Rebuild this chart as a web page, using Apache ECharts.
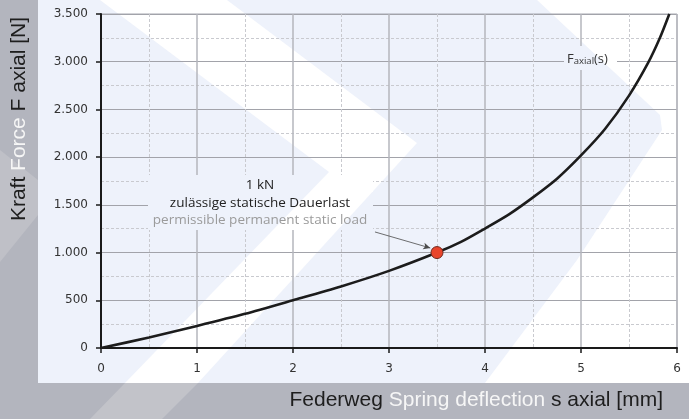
<!DOCTYPE html>
<html>
<head>
<meta charset="utf-8">
<script src="https://cdn.jsdelivr.net/npm/echarts@6/dist/echarts.min.js"></script>
<style>html,body{margin:0;padding:0;background:#b3b5be;}#c{width:689px;height:419px;}</style>
</head>
<body>
<div id="c"></div>
<script>
// ---- data ----
const sValues = [0, 0.5, 1, 1.5, 2, 2.5, 3, 3.5, 3.75, 4, 4.25, 4.5, 4.75, 5, 5.25, 5.5, 5.7, 5.82, 5.92];
const fValues = [0, 110, 231, 358, 500, 645, 808, 1000, 1112, 1252, 1400, 1578, 1774, 2018, 2295, 2645, 2990, 3245, 3500];
const loadPoint = [3.5, 1000];
const arrowFrom = [2.854, 1216];
const arrowTo = [3.43, 1048];
const xTicks = [0, 1, 2, 3, 4, 5, 6];
const yTicks = [0, 500, 1000, 1500, 2000, 2500, 3000, 3500];
const annoLines = ['1 kN', 'zulässige statische Dauerlast', 'permissible permanent static load'];

// ---- layout / decoration ----
const W = 689, H = 419;
const panel = {x: 38, y: 0, w: 651, h: 383};
const lav = '#eef2fb';
const whiteShapes = [
  [[100,0],[227,0],[417,143],[198,383],[125,383],[329,172]],
  [[537,0],[689,0],[689,383],[485,383],[577,260],[662,130],[660,115]]
];
const boxes = [
  {x: 148, y: 175, w: 225, h: 55},
  {x: 564, y: 46, w: 53, h: 24}
];

function clipPoly(poly, r) {
  const edges = [
    [p => p[0] >= r.x, (a, b) => { const t = (r.x - a[0]) / (b[0] - a[0]); return [r.x, a[1] + t * (b[1] - a[1])]; }],
    [p => p[0] <= r.x + r.w, (a, b) => { const t = (r.x + r.w - a[0]) / (b[0] - a[0]); return [r.x + r.w, a[1] + t * (b[1] - a[1])]; }],
    [p => p[1] >= r.y, (a, b) => { const t = (r.y - a[1]) / (b[1] - a[1]); return [a[0] + t * (b[0] - a[0]), r.y]; }],
    [p => p[1] <= r.y + r.h, (a, b) => { const t = (r.y + r.h - a[1]) / (b[1] - a[1]); return [a[0] + t * (b[0] - a[0]), r.y + r.h]; }]
  ];
  let out = poly;
  for (const [inside, inter] of edges) {
    const input = out; out = [];
    if (!input.length) break;
    for (let i = 0; i < input.length; i++) {
      const cur = input[i], prev = input[(i + input.length - 1) % input.length];
      if (inside(cur)) {
        if (!inside(prev)) out.push(inter(prev, cur));
        out.push(cur);
      } else if (inside(prev)) {
        out.push(inter(prev, cur));
      }
    }
  }
  return out;
}

const graphics = [];
graphics.push({type: 'rect', z: -100, shape: {x: 0, y: 0, width: W, height: H}, style: {fill: '#b3b5be'}, silent: true});
graphics.push({type: 'polygon', z: -99, shape: {points: [[125,383],[198,383],[162,419],[90,419]]}, style: {fill: '#c2c3c9'}, silent: true});
graphics.push({type: 'polygon', z: -99, shape: {points: [[0,150],[38,180],[38,215],[0,262]]}, style: {fill: '#bfc0c7'}, silent: true});
graphics.push({type: 'rect', z: -98, shape: {x: panel.x, y: panel.y, width: panel.w, height: panel.h}, style: {fill: lav}, silent: true});
whiteShapes.forEach(p => graphics.push({type: 'polygon', z: -97, shape: {points: p}, style: {fill: '#ffffff'}, silent: true}));
boxes.forEach(b => {
  graphics.push({type: 'rect', z: 1, shape: {x: b.x, y: b.y, width: b.w, height: b.h}, style: {fill: lav}, silent: true});
  whiteShapes.forEach(p => {
    const c = clipPoly(p, b);
    if (c.length >= 3) graphics.push({type: 'polygon', z: 1, shape: {points: c}, style: {fill: '#ffffff'}, silent: true});
  });
});
// annotation text
const annoY = [185, 203, 220];
const annoCol = ['#222222', '#222222', '#9b9b9b'];
annoLines.forEach((t, i) => graphics.push({
  type: 'text', z: 10, x: 260, y: annoY[i],
  style: {text: t, fill: annoCol[i], font: '13.5px "Open Sans"', textAlign: 'center', textVerticalAlign: 'middle'}
}));
// F_axial(s) label
graphics.push({
  type: 'text', z: 10, x: 567, y: 58,
  style: {
    text: '{a|F}{b|axial}{a|(s)}', textAlign: 'left', textVerticalAlign: 'middle',
    rich: {
      a: {fontSize: 13, fontFamily: 'Open Sans', fill: '#333', color: '#333', lineHeight: 16, verticalAlign: 'bottom'},
      b: {fontSize: 9.5, fontFamily: 'Open Sans', fill: '#333', color: '#333', lineHeight: 8, verticalAlign: 'bottom'}
    }
  }
});
// axis titles
graphics.push({
  type: 'text', z: 10, x: 663, y: 400,
  style: {
    text: '{d|Federweg }{w|Spring deflection}{d| s axial [mm]}', textAlign: 'right', textVerticalAlign: 'middle',
    rich: {
      d: {fontSize: 21, fontFamily: 'Liberation Sans', fill: '#1e1e1e', color: '#1e1e1e'},
      w: {fontSize: 21, fontFamily: 'Liberation Sans', fill: '#f6f6f6', color: '#f6f6f6'}
    }
  }
});
graphics.push({
  type: 'text', z: 10, x: 19, y: 119, rotation: Math.PI / 2,
  style: {
    text: '{d|Kraft }{w|Force}{d| F axial [N]}', textAlign: 'center', textVerticalAlign: 'middle',
    rich: {
      d: {fontSize: 21, fontFamily: 'Liberation Sans', fill: '#1e1e1e', color: '#1e1e1e'},
      w: {fontSize: 21, fontFamily: 'Liberation Sans', fill: '#f6f6f6', color: '#f6f6f6'}
    }
  }
});

const fmtDE = v => String(v).replace(/\B(?=(\d{3})+(?!\d))/g, '.');

const chart = echarts.init(document.getElementById('c'), null, {renderer: 'canvas'});
chart.setOption({
  animation: false,
  backgroundColor: 'transparent',
  grid: {left: 101, right: 12, top: 14, bottom: 71, show: true, borderColor: '#a7a8b0', borderWidth: 1, backgroundColor: 'transparent'},
  xAxis: {
    type: 'value', min: xTicks[0], max: xTicks[xTicks.length - 1], interval: 1,
    axisLine: {show: true, onZero: false, lineStyle: {color: '#1a1a1a', width: 2}},
    axisTick: {show: true, length: 5, lineStyle: {color: '#1a1a1a', width: 1.5}},
    axisLabel: {color: '#333', fontSize: 12, fontFamily: 'DejaVu Sans', margin: 15},
    splitLine: {show: true, lineStyle: {color: '#b5b6bd', width: 1.5}},
    minorTick: {show: false, splitNumber: 2},
    minorSplitLine: {show: true, lineStyle: {color: '#c9cacf', width: 1, type: [3, 2]}}
  },
  yAxis: {
    type: 'value', min: yTicks[0], max: yTicks[yTicks.length - 1], interval: 500,
    axisLine: {show: true, onZero: false, lineStyle: {color: '#1a1a1a', width: 2}},
    axisTick: {show: true, length: 5, lineStyle: {color: '#1a1a1a', width: 1.5}},
    axisLabel: {color: '#333', fontSize: 12, fontFamily: 'DejaVu Sans', margin: 13, formatter: v => fmtDE(v)},
    splitLine: {show: true, lineStyle: {color: '#a2a3aa', width: 1}},
    minorTick: {show: false, splitNumber: 2},
    minorSplitLine: {show: true, lineStyle: {color: '#c9cacf', width: 1, type: [3, 2]}}
  },
  series: [
    {
      type: 'line', data: sValues.map((s, i) => [s, fValues[i]]), smooth: 0.25, showSymbol: false,
      lineStyle: {color: '#1c1c1c', width: 2.6}, z: 3, silent: true
    },
    {
      type: 'scatter', data: [loadPoint], symbolSize: 12, z: 5, silent: true,
      itemStyle: {color: '#e8442b', borderColor: '#6e2a20', borderWidth: 1, opacity: 1},
      markLine: {
        silent: true, symbol: ['none', 'arrow'], symbolSize: [5, 7], label: {show: false},
        lineStyle: {color: '#4a4a4a', width: 0.8, type: 'solid'},
        data: [[{coord: arrowFrom}, {coord: arrowTo}]]
      }
    }
  ],
  graphic: graphics
});
</script>
</body>
</html>
